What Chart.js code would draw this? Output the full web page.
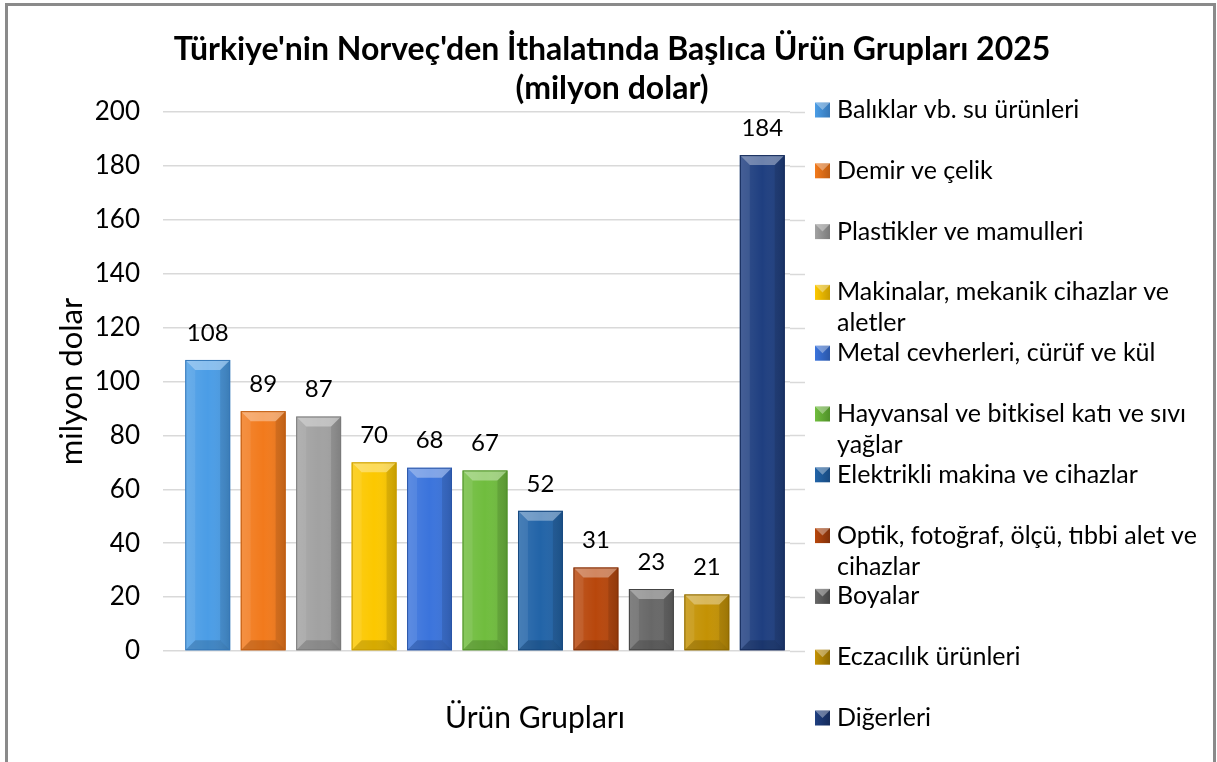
<!DOCTYPE html>
<html>
<head>
<meta charset="utf-8">
<script src="https://cdn.jsdelivr.net/npm/chart.js@4/dist/chart.umd.min.js"></script>
<style>
  html, body { margin: 0; padding: 0; background: #fff; overflow: hidden; }
  #frame { position: absolute; left: 5px; top: 3px; width: 1211px; height: 800px; border: 3px solid #8a8a8a; box-sizing: border-box; }
  #wrap { position: absolute; left: 0; top: 0; width: 1217px; height: 762px; }
</style>
</head>
<body>
<div id="frame"></div>
<div id="wrap"><canvas id="myChart"></canvas></div>
<script>
const categories = [
	'Balıklar vb. su ürünleri',
	'Demir ve çelik',
	'Plastikler ve mamulleri',
	'Makinalar, mekanik cihazlar ve aletler',
	'Metal cevherleri, cürüf ve kül',
	'Hayvansal ve bitkisel katı ve sıvı yağlar',
	'Elektrikli makina ve cihazlar',
	'Optik, fotoğraf, ölçü, tıbbi alet ve cihazlar',
	'Boyalar',
	'Eczacılık ürünleri',
	'Diğerleri'
];
const values = [108, 89, 87, 70, 68, 67, 52, 31, 23, 21, 184];
const barColors = ['#4b9de6', '#f27a1c', '#a2a2a2', '#fcc800', '#3b74dc', '#70bd3e', '#2264a8', '#b8470c', '#686868', '#c49204', '#1f3f80'];
const edgeColors = ['#3577b8', '#c05c10', '#7a7a7a', '#c89c00', '#2a56a8', '#4f9028', '#184a80', '#80300a', '#444444', '#8c6800', '#142a5a'];
const yTicks = [0, 20, 40, 60, 80, 100, 120, 140, 160, 180, 200];
const titleLines = ["Türkiye'nin Norveç'den İthalatında Başlıca Ürün Grupları 2025", '(milyon dolar)'];
const xTitle = 'Ürün Grupları';
const yTitle = 'milyon dolar';

const FONT = 'Lato, "Open Sans", sans-serif';

const decor = {
	id: 'decor',
	beforeDatasetsDraw(chart) {
		// gridlines run a bit past the plot area on the right, as in the original
		const ctx = chart.ctx, y = chart.scales.y, a = chart.chartArea;
		ctx.save();
		ctx.strokeStyle = '#d9d9d9';
		ctx.lineWidth = 1.5;
		yTicks.forEach(function (t) {
			const py = Math.round(y.getPixelForValue(t)) + 0.5;
			ctx.beginPath();
			ctx.moveTo(a.right, py);
			ctx.lineTo(a.right + 15, py);
			ctx.stroke();
		});
		ctx.restore();
	},
	afterDatasetsDraw(chart) {
		const ctx = chart.ctx;
		const meta = chart.getDatasetMeta(0);
		ctx.save();
		meta.data.forEach(function (bar, i) {
			const l = bar.x - bar.width / 2, r = bar.x + bar.width / 2;
			const t = bar.y, b = bar.base;
			const s = Math.min(10, (b - t) / 2);
			// body shading
			const g = ctx.createLinearGradient(l, 0, r, 0);
			g.addColorStop(0, 'rgba(255,255,255,0.10)');
			g.addColorStop(0.5, 'rgba(255,255,255,0)');
			g.addColorStop(1, 'rgba(0,0,0,0.12)');
			ctx.fillStyle = g;
			ctx.fillRect(l, t, r - l, b - t);
			// bevel
			ctx.fillStyle = 'rgba(255,255,255,0.35)';
			ctx.beginPath(); ctx.moveTo(l, t); ctx.lineTo(r, t); ctx.lineTo(r - s, t + s); ctx.lineTo(l + s, t + s); ctx.closePath(); ctx.fill();
			ctx.fillStyle = 'rgba(0,0,0,0.15)';
			ctx.beginPath(); ctx.moveTo(l, b); ctx.lineTo(r, b); ctx.lineTo(r - s, b - s); ctx.lineTo(l + s, b - s); ctx.closePath(); ctx.fill();
			ctx.fillStyle = 'rgba(255,255,255,0.08)';
			ctx.beginPath(); ctx.moveTo(l, t); ctx.lineTo(l + s, t + s); ctx.lineTo(l + s, b - s); ctx.lineTo(l, b); ctx.closePath(); ctx.fill();
			ctx.fillStyle = 'rgba(0,0,0,0.10)';
			ctx.beginPath(); ctx.moveTo(r, t); ctx.lineTo(r - s, t + s); ctx.lineTo(r - s, b - s); ctx.lineTo(r, b); ctx.closePath(); ctx.fill();
			ctx.strokeStyle = edgeColors[i];
			ctx.lineWidth = 1;
			ctx.strokeRect(l + 0.5, t + 0.5, r - l - 1, b - t - 1);
			// value label
			ctx.fillStyle = '#000';
			ctx.font = '24px ' + FONT;
			ctx.textAlign = 'center';
			ctx.textBaseline = 'middle';
			ctx.fillText(values[i], bar.x, t - 27);
		});
		ctx.restore();
	},
	afterDraw(chart) {
		const ctx = chart.ctx, y = chart.scales.y;
		ctx.save();
		ctx.fillStyle = '#000';
		ctx.textAlign = 'center';
		ctx.textBaseline = 'middle';
		ctx.font = 'bold 32px ' + FONT;
		ctx.fillText(titleLines[0], 612, 50);
		ctx.fillText(titleLines[1], 612, 89);
		ctx.font = '30px ' + FONT;
		ctx.fillText(xTitle, 535, 718);

		// legend on the right, items spread over the height of the axis
		ctx.font = '25px ' + FONT;
		ctx.textAlign = 'left';
		const top = y.getPixelForValue(200) - 2, step = 60.8;
		categories.forEach(function (name, i) {
			const cy = top + i * step;
			const words = name.split(' ');
			const lines = [];
			let cur = '';
			words.forEach(function (w) {
				const test = cur ? cur + ' ' + w : w;
				if (ctx.measureText(test).width > 365 && cur) { lines.push(cur); cur = w; } else { cur = test; }
			});
			lines.push(cur);
			const bx = 815, bs = 15;
			const g = ctx.createLinearGradient(bx, 0, bx + bs, 0);
			g.addColorStop(0, barColors[i]);
			g.addColorStop(1, edgeColors[i]);
			ctx.fillStyle = g;
			ctx.fillRect(bx, cy - bs / 2, bs, bs);
			ctx.fillStyle = 'rgba(255,255,255,0.35)';
			ctx.beginPath(); ctx.moveTo(bx, cy - bs / 2); ctx.lineTo(bx + bs, cy - bs / 2); ctx.lineTo(bx + bs / 2, cy); ctx.closePath(); ctx.fill();
			ctx.fillStyle = '#000';
			lines.forEach(function (ln, k) {
				ctx.fillText(ln, 837, cy + k * 31);
			});
		});
		ctx.restore();
	}
};

document.addEventListener('DOMContentLoaded', function () {
	const chart1 = document.getElementById('myChart').getContext('2d');

	new Chart(chart1, {
		type: 'bar',
		data: {
			labels: categories,
			datasets: [
				{
					label: 'milyon dolar',
					data: values,
					backgroundColor: barColors,
					borderWidth: 0,
					barPercentage: 0.81,
					categoryPercentage: 1.0,
				},
			],
		},
		options: {
			responsive: true,
			maintainAspectRatio: false,
			animation: false,
			layout: {
				padding: { left: 53, right: 427, top: 112, bottom: 0 }
			},
			plugins: {
				legend: { display: false },
				title: { display: false },
				tooltip: { enabled: false }
			},
			scales: {
				x: {
					ticks: { display: false },
					grid: { display: false },
					border: { display: false },
					afterFit: function (s) { s.height = 111; }
				},
				y: {
					min: 0,
					max: 200,
					ticks: {
						stepSize: 20,
						padding: 23,
						color: '#000',
						font: { family: FONT, size: 26 }
					},
					grid: { color: '#d9d9d9', lineWidth: 1.5, drawTicks: true, tickLength: 17, tickColor: '#d9d9d9' },
					border: { display: false },
					title: {
						display: true,
						text: yTitle,
						color: '#000',
						padding: 0,
						font: { family: FONT, size: 31 }
					},
					afterFit: function (s) { s.width = 127; }
				}
			}
		},
		plugins: [decor]
	});
});
</script>
</body>
</html>
